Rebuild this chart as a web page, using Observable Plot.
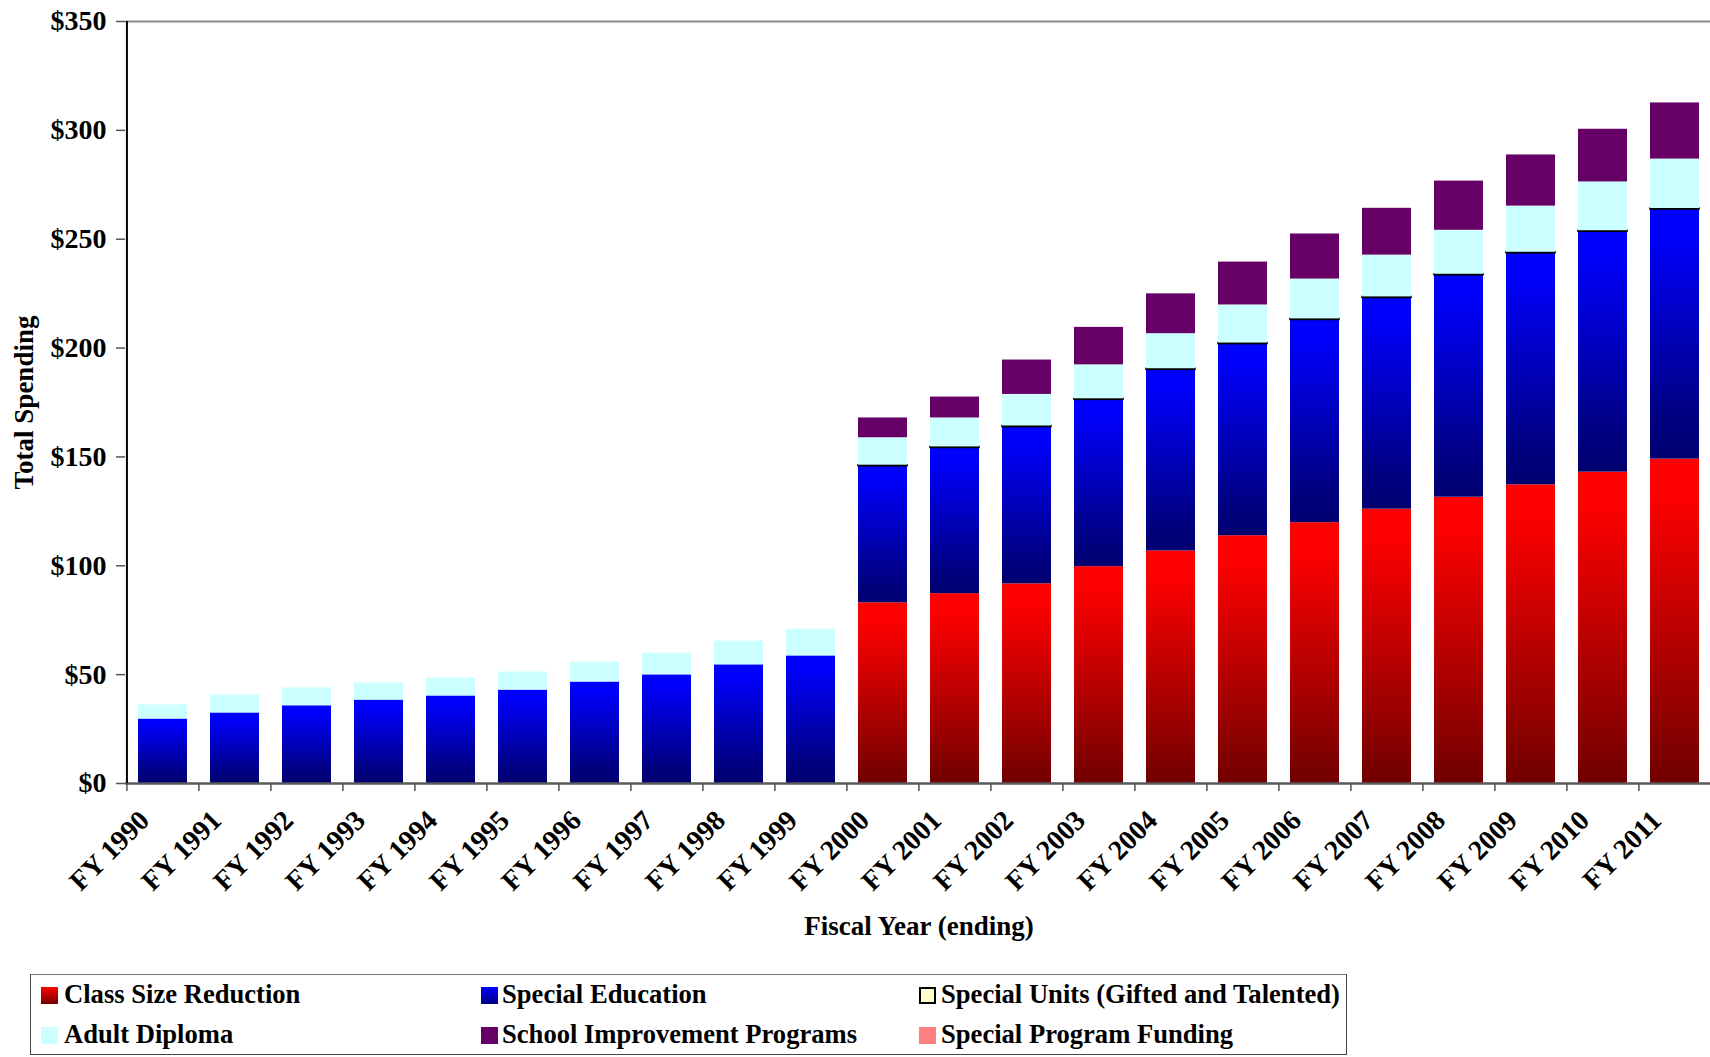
<!DOCTYPE html>
<html>
<head>
<meta charset="utf-8">
<script src="https://cdn.jsdelivr.net/npm/d3@7"></script>
<script src="https://cdn.jsdelivr.net/npm/@observablehq/plot@0.6"></script>
<style>
  html, body { margin: 0; padding: 0; background: #fff; }
  body { width: 1710px; height: 1057px; position: relative; overflow: hidden;
         font-family: "Liberation Serif", "Times New Roman", serif; }
  #legend { position: absolute; left: 30px; top: 974px; width: 1315px; height: 79px;
            border: 1.5px solid #444; border-top-color: #777; box-sizing: content-box; }
  .li { position: absolute; font-size: 26.6px; font-weight: bold; line-height: 26px; white-space: nowrap; color: #000; }
  .sw { position: absolute; width: 17px; height: 17px; box-sizing: border-box; }
</style>
</head>
<body>
<div id="chart"></div>
<div id="legend"></div>
<script>
// ---------- data ----------
const years = ["FY 1990","FY 1991","FY 1992","FY 1993","FY 1994","FY 1995","FY 1996","FY 1997",
  "FY 1998","FY 1999","FY 2000","FY 2001","FY 2002","FY 2003","FY 2004","FY 2005","FY 2006",
  "FY 2007","FY 2008","FY 2009","FY 2010","FY 2011"];

const seriesNames = ["Class Size Reduction","Special Education","Special Units (Gifted and Talented)",
  "Adult Diploma","School Improvement Programs","Special Program Funding"];

const classSize   = [0,0,0,0,0,0,0,0,0,0, 83.0,87.2,91.7,99.6,106.8,113.8,119.8,126.0,131.5,137.2,143.0,149.0];
const specialEd   = [29.6,32.4,35.7,38.3,40.2,42.9,46.6,49.9,54.5,58.6, 62.7,66.9,72.0,76.6,83.2,88.0,93.1,97.0,101.9,106.3,110.4,114.6];
const specialUnits= [0,0,0,0,0,0,0,0,0,0, 0.5,0.5,0.5,0.5,0.5,0.5,0.5,0.5,0.5,0.5,0.5,0.5];
const adultDiploma= [6.5,8.2,8.2,7.9,8.3,8.3,9.2,10.0,10.9,12.3, 12.6,13.3,14.5,15.6,16.1,17.5,18.3,19.2,20.2,21.2,22.4,22.7];
const schoolImprov= [0,0,0,0,0,0,0,0,0,0, 9.1,9.6,15.8,17.2,18.3,19.7,20.7,21.5,22.6,23.5,24.2,25.8];
const specialProg = [0,0,0,0,0,0,0,0,0,0, 0,0,0,0,0,0,0,0,0,0,0,0];

const yTicks = [0,50,100,150,200,250,300,350];

const seriesValues = [classSize, specialEd, specialUnits, adultDiploma, schoolImprov, specialProg];
const seriesFills = ["url(#gRed)","url(#gBlue)","#ffffcc","#ccffff","#660066","#ff8080"];

// ---------- build table ----------
const data = [];
years.forEach((yr, i) => {
  seriesNames.forEach((s, k) => {
    data.push({year: yr, series: s, value: seriesValues[k][i], fill: seriesFills[k]});
  });
});

const W = 1710, H = 960, ML = 125, MR = -2, MT = 21, MB = 177;
const half = (W - ML - MR) / years.length / 2;

const svg = Plot.plot({
  width: W, height: H,
  marginLeft: ML, marginRight: MR, marginTop: MT, marginBottom: MB,
  style: {fontFamily: "'Liberation Serif','Times New Roman',serif", fontSize: "27px", fontWeight: "bold", color: "#000", background: "#fff", overflow: "visible"},
  x: {domain: years, paddingInner: 0.32, paddingOuter: 0.16, axis: null},
  y: {domain: [0, 350], axis: null},
  marks: [
    Plot.ruleY([350], {stroke: "#8a8a8a", strokeWidth: 2}),
    Plot.barY(data, {
      x: "year", y: "value",
      fill: d => d.fill,
      stroke: d => (d.series === seriesNames[2] && d.value > 0) ? "#000" : "none",
      strokeWidth: 1.5
    }),
    Plot.ruleY([0], {stroke: "#5a5a5a", strokeWidth: 2.5}),
    Plot.ruleX([years[0]], {dx: -half, y1: 0, y2: 350, stroke: "#000", strokeWidth: 2}),
    Plot.axisY({ticks: yTicks, tickFormat: d => "$" + d, tickSize: 9, tickPadding: 10,
      fontSize: 28, fontWeight: "bold", stroke: "#555", strokeWidth: 1.5, label: null}),
    Plot.axisX({ticks: years, tickSize: 8, tickFormat: () => "", dx: -half,
      stroke: "#555", strokeWidth: 1.5, label: null}),
    Plot.text(years, {x: d => d, frameAnchor: "bottom", dx: -12, dy: 38.5, rotate: -45,
      textAnchor: "end", fontSize: 28, fontWeight: "bold", fill: "#000"}),
    Plot.text(["Fiscal Year (ending)"], {frameAnchor: "bottom", dy: 143, lineAnchor: "middle",
      textAnchor: "middle", fontSize: 27, fontWeight: "bold", fill: "#000"}),
    Plot.text(["Total Spending"], {frameAnchor: "left", dx: -101, rotate: -90,
      textAnchor: "middle", lineAnchor: "middle", fontSize: 27, fontWeight: "bold", fill: "#000"})
  ]
});

// gradients for the shaded series
const defs = d3.select(svg).insert("defs", ":first-child");
function grad(id, stops) {
  const g = defs.append("linearGradient").attr("id", id)
    .attr("x1", 0).attr("y1", 0).attr("x2", 0).attr("y2", 1);
  stops.forEach(([o, c]) => g.append("stop").attr("offset", o).attr("stop-color", c));
}
grad("gRed",  [[0, "#ff0000"], [0.1, "#ff0000"], [1, "#700000"]]);
grad("gBlue", [[0, "#0000ff"], [0.08, "#0000ff"], [0.85, "#000080"], [1, "#000070"]]);

document.getElementById("chart").appendChild(svg);

// ---------- legend ----------
const legendSw = [
  "linear-gradient(#ff0000, #700000)",
  "linear-gradient(#0000ff, #000080)",
  "#ffffcc",
  "#ccffff",
  "#660066",
  "#ff8080"
];
const legendPos = [
  {sx: 10, tx: 33, row: 0}, {sx: 450, tx: 471, row: 0}, {sx: 888, tx: 910, row: 0},
  {sx: 10, tx: 33, row: 1}, {sx: 450, tx: 471, row: 1}, {sx: 888, tx: 910, row: 1}
];
const lg = document.getElementById("legend");
seriesNames.forEach((name, k) => {
  const p = legendPos[k];
  const sw = document.createElement("div");
  sw.className = "sw";
  sw.style.left = p.sx + "px";
  sw.style.top = (12 + p.row * 40) + "px";
  sw.style.background = legendSw[k];
  if (k === 2) sw.style.border = "2px solid #000";
  lg.appendChild(sw);
  const t = document.createElement("div");
  t.className = "li";
  t.style.left = p.tx + "px";
  t.style.top = (6 + p.row * 40) + "px";
  t.textContent = name;
  lg.appendChild(t);
});
</script>
</body>
</html>
